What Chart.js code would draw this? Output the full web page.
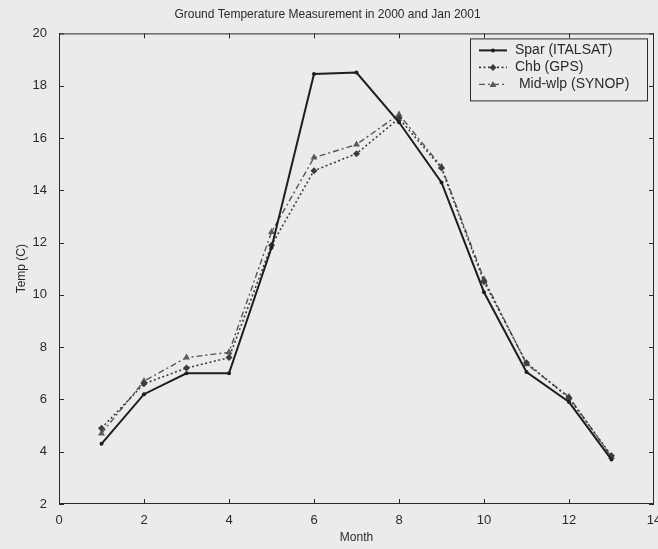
<!DOCTYPE html>
<html>
<head>
<meta charset="utf-8">
<script src="https://cdn.jsdelivr.net/npm/chart.js@4"></script>
<style>
  html, body { margin: 0; padding: 0; background: #ebebeb; }
  #wrap { width: 658px; height: 549px; }
</style>
</head>
<body>
<div id="wrap"><canvas id="tempChart" width="658" height="549"></canvas></div>
<script>
// months (1 = Jan 2000 ... 13 = Jan 2001)
const months = [1, 2, 3, 4, 5, 6, 7, 8, 9, 10, 11, 12, 13];
const sparTemp = [4.3, 6.2, 7.0, 7.0, 11.8, 18.45, 18.5, 16.6, 14.3, 10.1, 7.05, 5.9, 3.7];
const chbTemp = [4.9, 6.6, 7.2, 7.6, 11.9, 14.75, 15.4, 16.75, 14.85, 10.5, 7.4, 6.05, 3.85];
const midTemp = [4.7, 6.7, 7.6, 7.8, 12.4, 15.25, 15.75, 16.9, 14.9, 10.6, 7.35, 6.1, 3.8];
const seriesNames = ['Spar (ITALSAT)', 'Chb (GPS)', ' Mid-wlp (SYNOP)'];

const toPoints = vals => months.map((m, i) => ({ x: m, y: vals[i] }));

const FONT = '"Liberation Sans", Arial, sans-serif';
const INK = '#2a2a2a';

// box round the axes + inward ticks on all four sides (matlab look)
const boxTicks = {
  id: 'boxTicks',
  afterDatasetsDraw(chart) {
    const { ctx, chartArea: a, scales } = chart;
    ctx.save();
    ctx.strokeStyle = INK;
    ctx.lineWidth = 1;
    ctx.strokeRect(a.left + 0.5, a.top + 0.5, a.right - a.left - 1, a.bottom - a.top - 1);
    const len = 5;
    ctx.beginPath();
    scales.x.ticks.forEach(t => {
      const px = Math.min(Math.round(scales.x.getPixelForValue(t.value)) + 0.5, a.right - 0.5);
      ctx.moveTo(px, a.bottom); ctx.lineTo(px, a.bottom - len);
      ctx.moveTo(px, a.top); ctx.lineTo(px, a.top + len);
    });
    scales.y.ticks.forEach(t => {
      const py = Math.max(Math.round(scales.y.getPixelForValue(t.value)) + 0.5, a.top + 0.5);
      ctx.moveTo(a.left, py); ctx.lineTo(a.left + len, py);
      ctx.moveTo(a.right, py); ctx.lineTo(a.right - len, py);
    });
    ctx.stroke();
    ctx.restore();
  }
};

// legend box in the top right corner of the axes
const boxLegend = {
  id: 'boxLegend',
  afterDraw(chart) {
    const { ctx, chartArea: a } = chart;
    const w = 177, h = 62;
    const x0 = a.right - w - 7, y0 = a.top + 5;
    ctx.save();
    ctx.fillStyle = '#ebebeb';
    ctx.fillRect(x0, y0, w, h);
    ctx.strokeStyle = INK;
    ctx.lineWidth = 1;
    ctx.strokeRect(x0 + 0.5, y0 + 0.5, w, h);
    ctx.font = '14px ' + FONT;
    ctx.textBaseline = 'middle';
    chart.data.datasets.forEach((ds, i) => {
      const y = y0 + 12 + i * 17;
      ctx.strokeStyle = ds.borderColor;
      ctx.lineWidth = ds.borderWidth;
      ctx.setLineDash(ds.borderDash || []);
      ctx.beginPath();
      ctx.moveTo(x0 + 9, y); ctx.lineTo(x0 + 37, y);
      ctx.stroke();
      ctx.setLineDash([]);
      ctx.fillStyle = ds.pointBackgroundColor;
      ctx.beginPath();
      if (ds.pointStyle === 'rectRot') {
        ctx.moveTo(x0 + 23, y - 3.5); ctx.lineTo(x0 + 26.5, y);
        ctx.lineTo(x0 + 23, y + 3.5); ctx.lineTo(x0 + 19.5, y);
      } else if (ds.pointStyle === 'triangle') {
        ctx.moveTo(x0 + 23, y - 3.5); ctx.lineTo(x0 + 26.5, y + 2.5); ctx.lineTo(x0 + 19.5, y + 2.5);
      } else {
        ctx.arc(x0 + 23, y, 2, 0, Math.PI * 2);
      }
      ctx.fill();
      ctx.fillStyle = INK;
      ctx.fillText(ds.label, x0 + 45, y);
    });
    ctx.restore();
  }
};

const ctx = document.getElementById('tempChart').getContext('2d');
new Chart(ctx, {
  type: 'line',
  data: {
    datasets: [{
      label: seriesNames[0],
      data: toPoints(sparTemp),
      borderColor: '#1e1e1e',
      borderWidth: 2,
      pointStyle: 'circle',
      pointRadius: 2,
      pointBackgroundColor: '#1e1e1e',
      pointBorderWidth: 0
    }, {
      label: seriesNames[1],
      data: toPoints(chbTemp),
      borderColor: '#3c3c3c',
      borderWidth: 1.6,
      borderDash: [2, 2.5],
      pointStyle: 'rectRot',
      pointRadius: 3.5,
      pointBackgroundColor: '#3c3c3c',
      pointBorderWidth: 0
    }, {
      label: seriesNames[2],
      data: toPoints(midTemp),
      borderColor: '#555555',
      borderWidth: 1.4,
      borderDash: [6, 3, 2, 3],
      pointStyle: 'triangle',
      pointRadius: 4,
      pointBackgroundColor: '#5a5a5a',
      pointBorderWidth: 0
    }]
  },
  options: {
    responsive: false,
    animation: false,
    layout: { padding: { left: 0, right: 3, top: 0, bottom: 0 } },
    plugins: {
      legend: { display: false },
      tooltip: { enabled: false },
      title: {
        display: true,
        text: 'Ground Temperature Measurement in 2000 and Jan 2001',
        color: INK,
        font: { family: FONT, size: 12, weight: 'normal' },
        padding: { top: 7, bottom: 12 }
      }
    },
    scales: {
      x: {
        type: 'linear',
        min: 0,
        max: 14,
        ticks: { stepSize: 2, color: INK, font: { family: FONT, size: 13 }, padding: 1, maxRotation: 0 },
        grid: { display: false },
        border: { display: false },
        title: { display: true, text: 'Month', color: INK, font: { family: FONT, size: 12 }, padding: { top: 4 } },
        afterFit: s => { s.height = 45; s.paddingRight = 0; s.paddingLeft = 0; }
      },
      y: {
        min: 2,
        max: 20,
        ticks: { stepSize: 2, color: INK, font: { family: FONT, size: 13 }, padding: 4 },
        grid: { display: false },
        border: { display: false },
        title: { display: true, text: 'Temp (C)', color: INK, font: { family: FONT, size: 12 }, padding: { top: 14, bottom: 6 } },
        afterFit: s => { s.width = 59; }
      }
    }
  },
  plugins: [boxTicks, boxLegend]
});
</script>
</body>
</html>
